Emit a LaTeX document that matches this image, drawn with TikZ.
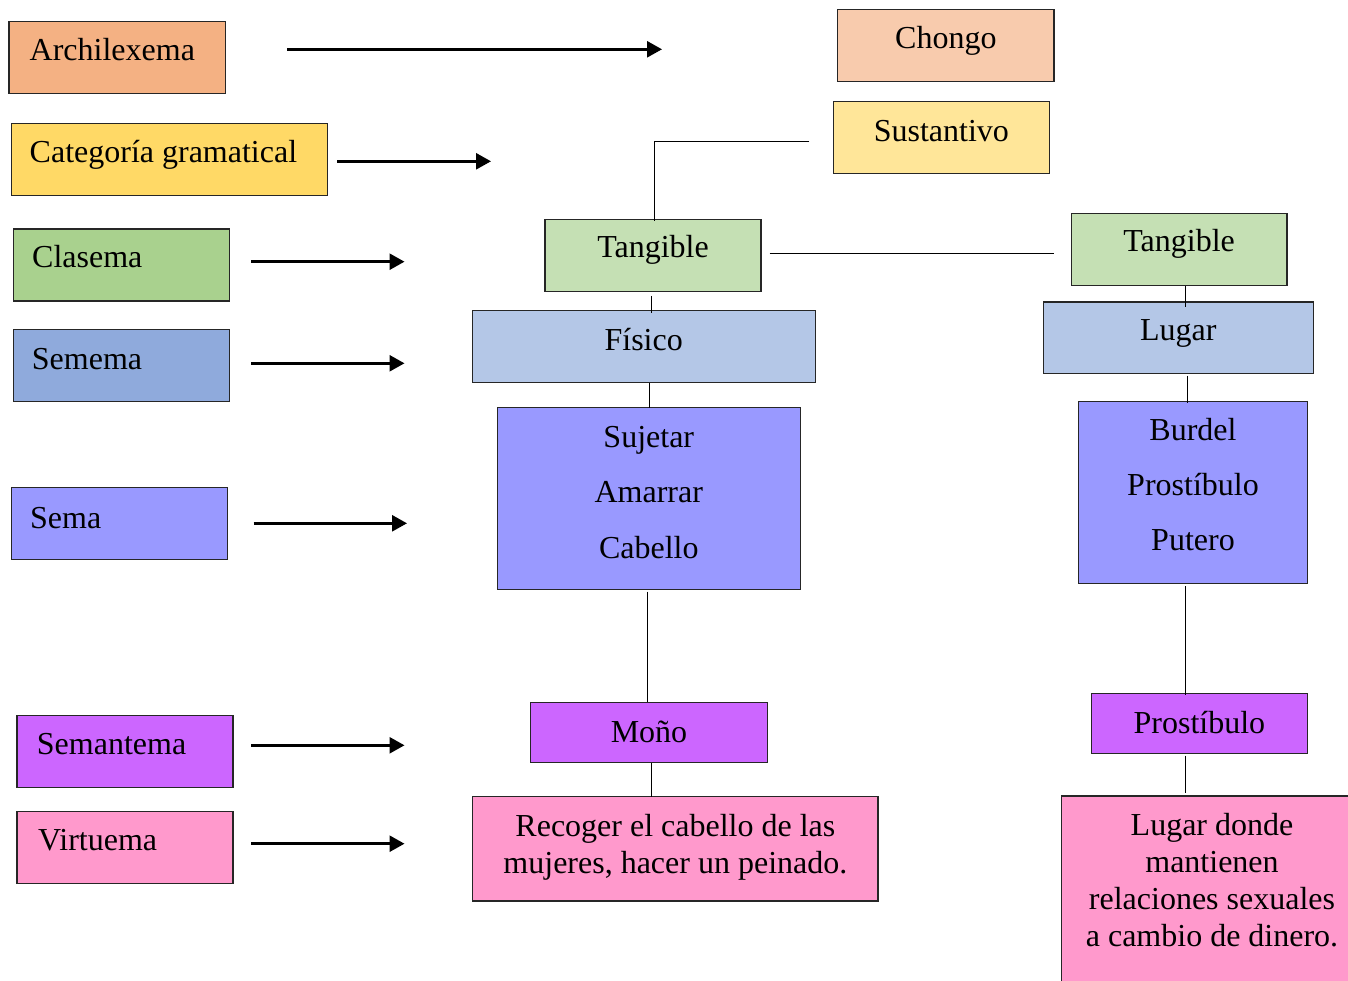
\documentclass[tikz,border=0pt]{standalone}
\usepackage{fontspec}
\setmainfont{Liberation Serif}
\usetikzlibrary{arrows.meta,calc}

\definecolor{cArch}{HTML}{F4B183}
\definecolor{cChongo}{HTML}{F8CBAD}
\definecolor{cCat}{HTML}{FFD966}
\definecolor{cSust}{HTML}{FFE699}
\definecolor{cClas}{HTML}{A9D18E}
\definecolor{cTang}{HTML}{C5E0B4}
\definecolor{cSemema}{HTML}{8FAADC}
\definecolor{cFis}{HTML}{B4C7E7}
\definecolor{cSema}{HTML}{9999FF}
\definecolor{cSemant}{HTML}{CC66FF}
\definecolor{cVirt}{HTML}{FF99CC}

\newcommand{\lines}[1]{\begin{tabular}[t]{@{}c@{}}#1\end{tabular}}

\begin{document}
\begin{tikzpicture}[x=1pt,y=-1pt,
  box/.style={draw=black!85, line width=1.2pt, inner sep=0pt, outer sep=0pt, anchor=north west},
  txt/.style={inner sep=0pt, anchor=base, font=\fontsize{32}{37}\selectfont},
  ltxt/.style={txt, anchor=base west},
  conn/.style={draw=black, line width=1pt},
  arr/.style={draw=black, line width=2.6pt, -{Triangle[length=15pt,width=16pt]}}]

\path[use as bounding box] (0,0) rectangle (1348,981);
\clip (0,0) rectangle (1348,981);

% ---- left column: level names ----
\node[box, fill=cArch,   minimum width=216.5pt, minimum height=72pt]   (arch)   at (8.9,21.7) {};
\node[box, fill=cCat,    minimum width=316pt,   minimum height=72.4pt] (cat)    at (11.2,123.3) {};
\node[box, fill=cClas,   minimum width=216.1pt, minimum height=72pt]   (clas)   at (13.4,229) {};
\node[box, fill=cSemema, minimum width=216.1pt, minimum height=72pt]   (semema) at (13.4,329.3) {};
\node[box, fill=cSema,   minimum width=216pt,   minimum height=72pt]   (sema)   at (11.2,487.3) {};
\node[box, fill=cSemant, minimum width=216pt,   minimum height=72pt]   (semant) at (17,715.7) {};
\node[box, fill=cVirt,   minimum width=216pt,   minimum height=72.4pt] (virt)   at (17,811.3) {};

\node[ltxt] (tArch)   at (29.5,61)  {Archilexema};
\node[ltxt] (tCat)    at (29.5,163) {Categoría gramatical};
\node[ltxt] (tClas)   at (32,268)   {Clasema};
\node[ltxt] (tSemema) at (31.7,369) {Semema};
\node[ltxt] (tSema)   at (30,528)   {Sema};
\node[ltxt] (tSemant) at (36.7,754) {Semantema};
\node[ltxt] (tVirt)   at (38,850)   {Virtuema};

% ---- arrow end points ----
\coordinate (a1) at (662,49.3);
\coordinate (a2) at (491,161.3);
\coordinate (a3) at (404.5,261.7);
\coordinate (a4) at (404.5,363.3);
\coordinate (a5) at (407,523.3);
\coordinate (a6) at (404.5,745.3);
\coordinate (a7) at (404.5,843.7);

\draw[arr, shorten <=61.6pt] (arch.east |- a1)   -- (a1);
\draw[arr, shorten <=9.8pt]  (cat.east |- a2)    -- (a2);
\draw[arr, shorten <=21.5pt] (clas.east |- a3)   -- (a3);
\draw[arr, shorten <=21.5pt] (semema.east |- a4) -- (a4);
\draw[arr, shorten <=26.4pt] (sema.east |- a5)   -- (a5);
\draw[arr, shorten <=18.3pt] (semant.east |- a6) -- (a6);
\draw[arr, shorten <=18.3pt] (virt.east |- a7)   -- (a7);

% ---- Chongo branch ----
\node[box, fill=cChongo, minimum width=216.3pt, minimum height=72pt]    (chongo) at (837.7,9.3) {};
\node[box, fill=cSust,   minimum width=216.3pt, minimum height=72pt]    (sust)   at (833.2,101.7) {};
\node[box, fill=cTang,   minimum width=216pt,   minimum height=72.4pt]  (tangL)  at (545,219.3) {};
\node[box, fill=cTang,   minimum width=215.8pt, minimum height=72pt]    (tangR)  at (1071.2,213.7) {};
\node[box, fill=cFis,    minimum width=342.4pt, minimum height=72pt]    (fis)    at (472.8,310.7) {};
\node[box, fill=cFis,    minimum width=269.9pt, minimum height=71.3pt]  (lugar)  at (1043.2,302) {};
\node[box, fill=cSema,   minimum width=303pt,   minimum height=182pt]   (suj)    at (497.3,407.7) {};
\node[box, fill=cSema,   minimum width=228.5pt, minimum height=182pt]   (burdel) at (1078.8,401.3) {};
\node[box, fill=cSemant, minimum width=236.5pt, minimum height=60.4pt]  (mono)   at (530.8,702.3) {};
\node[box, fill=cSemant, minimum width=215.8pt, minimum height=60pt]    (prost)  at (1091.5,693.7) {};
\node[box, fill=cVirt,   minimum width=405.1pt, minimum height=104.3pt] (rec)    at (472.8,796.7) {};
\node[box, fill=cVirt,   minimum width=301pt,   minimum height=204pt]   (lugD)   at (1061.7,796) {};

\node[txt] (tChongo) at (945.9,49)   {Chongo};
\node[txt] (tSust)   at (941.4,142)  {Sustantivo};
\node[txt] (tTangL)  at (653,258)    {Tangible};
\node[txt] (tTangR)  at (1179.1,252) {Tangible};
\node[txt] (tFis)    at (643.7,350)  {Físico};
\node[txt] (tLugar)  at (1178.2,341) {Lugar};
\node[txt, font=\fontsize{32}{55.5}\selectfont] (tSuj) at (648.8,447)
  {\lines{Sujetar\\Amarrar\\Cabello}};
\node[txt, font=\fontsize{32}{55}\selectfont] (tBurdel) at (1193,440)
  {\lines{Burdel\\Prostíbulo\\Putero}};
\node[txt] (tMono)   at (649,742)    {Moño};
\node[txt] (tProst)  at (1199.4,733) {Prostíbulo};
\node[txt, font=\fontsize{32}{37}\selectfont] (tRec) at (675.4,836)
  {\lines{Recoger el cabello de las\\mujeres, hacer un peinado.}};
\node[txt, font=\fontsize{32}{37}\selectfont] (tLugD) at (1212,835)
  {\lines{Lugar donde\\mantienen\\relaciones sexuales\\a cambio de dinero.}};

% ---- connectors ----
\coordinate (susEnd) at (809.3,141.7);
\coordinate (c0) at (654,0);
\coordinate (cyT) at (0,253.7);
\coordinate (c1) at (651.3,0);
\coordinate (c2) at (649,0);
\coordinate (c3) at (647,0);
\coordinate (c4) at (651.8,0);
\coordinate (c5) at (1185,0);
\coordinate (c6) at (1187.6,0);

\draw[conn, shorten >=-1.7pt] (susEnd) -| (tangL.north -| c0);
\draw[conn, shorten <=8.6pt, shorten >=16.8pt] (tangL.east |- cyT) -- (tangR.west |- cyT);
\draw[conn, shorten <=4.3pt, shorten >=-2.6pt] (tangL.south -| c1) -- (fis.north -| c1);
\draw[conn] (fis.south -| c2) -- (suj.north -| c2);
\draw[conn, shorten <=2pt] (suj.south -| c3) -- (mono.north -| c3);
\draw[conn] (mono.south -| c4) -- (rec.north -| c4);
\draw[conn, shorten >=-5.3pt] (tangR.south -| c5) -- (lugar.north -| c5);
\draw[conn, shorten <=2.4pt, shorten >=-1.4pt] (lugar.south -| c6) -- (burdel.north -| c6);
\draw[conn, shorten <=2.7pt, shorten >=-1.3pt] (burdel.south -| c5) -- (prost.north -| c5);
\draw[conn, shorten <=2pt, shorten >=2.7pt] (prost.south -| c5) -- (lugD.north -| c5);

\end{tikzpicture}
\end{document}
